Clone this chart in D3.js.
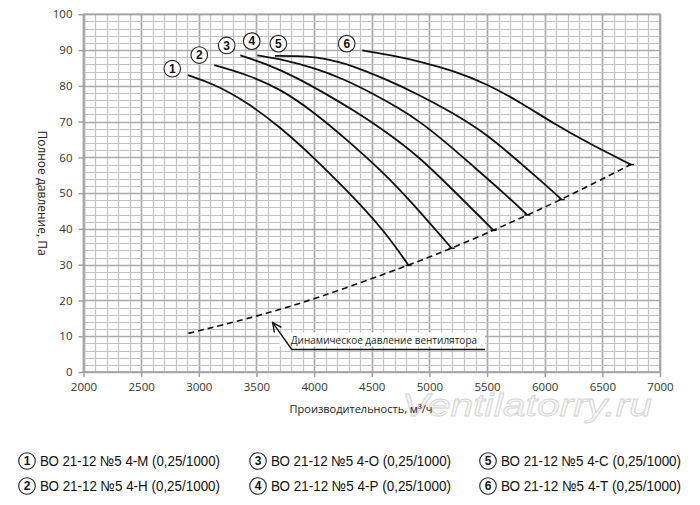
<!DOCTYPE html>
<html><head><meta charset="utf-8">
<script src="https://cdn.jsdelivr.net/npm/d3@7"></script>
<style>
body{margin:0;background:#fff;}
svg{display:block;}
</style>
</head><body>
<svg id="chart" width="700" height="505"></svg>
<script>
// ---- data ----
const xTicks = [2000,2500,3000,3500,4000,4500,5000,5500,6000,6500,7000];
const yTicks = [0,10,20,30,40,50,60,70,80,90,100];
const curveIds = ["1","2","3","4","5","6"];
const curve1 = [[2906,83],[3126,80.6],[3415,75.5],[3704,68.5],[3993,60.1],[4283,50.8],[4600,39.9],[4820,29.8]];
const curve2 = [[3134,85.8],[3415,83.2],[3704,79.2],[3993,72.8],[4283,65],[4600,55.8],[4831,48],[5193,34.6]];
const curve3 = [[3360,88.5],[3600,86],[3849,82.3],[4100,77.8],[4350,73],[4615,67.4],[4918,60],[5207,50.8],[5467,42.5],[5556,39.6]];
const curve4 = [[3508,88.5],[3750,87.2],[4000,85],[4250,82],[4500,78],[4750,73.5],[4918,70],[5150,64],[5352,58.3],[5641,50.2],[5849,43.9]];
const curve5 = [[3661,88.4],[3850,88.4],[4023,88],[4200,86.8],[4311,85.8],[4600,82.2],[4918,77.4],[5200,72.5],[5497,66.5],[5786,58.5],[6000,52.5],[6147,48.2]];
const curve6 = [[4418,89.9],[4700,88.4],[4918,86.8],[5200,84.3],[5497,80.6],[5800,75.2],[6075,69.5],[6400,63.6],[6748,58]];
const dynamicPressure = [[2909,10.8],[3500,15.5],[4000,20.3],[4820,29.8],[5193,34.6],[5556,39.6],[5849,43.9],[6147,48.2],[6748,58]];
const labelPos = [[2770,84.8],[3004,88.6],[3242,91.3],[3459,92.5],[3690,91.8],[4283,91.8]];
const legendNames = [
  "ВО 21-12 №5 4-М (0,25/1000)",
  "ВО 21-12 №5 4-Н (0,25/1000)",
  "ВО 21-12 №5 4-О (0,25/1000)",
  "ВО 21-12 №5 4-Р (0,25/1000)",
  "ВО 21-12 №5 4-С (0,25/1000)",
  "ВО 21-12 №5 4-Т (0,25/1000)"
];
const annotationText = "Динамическое давление вентилятора";
const annotationTip = [3641,13.8], annotationElbow = [3806,6.3], annotationEnd = [5482,6.3];
const xTitle = "Производительность, м³/ч";
const yTitle = "Полное давление, Па";
const watermark = "Ventilatorry.ru";

// ---- layout ----
const svg = d3.select("#chart");
const L = 83.5, R = 660, T = 14.3, B = 372;
const x = d3.scaleLinear().domain([2000,7000]).range([L,R]);
const y = d3.scaleLinear().domain([0,100]).range([B,T]);
const font = "'Open Sans', 'DejaVu Sans', sans-serif";
const narrow = "'Liberation Sans', Arial, sans-serif";

// watermark (behind everything)
svg.append("text").attr("x",402).attr("y",416)
  .attr("textLength",250).attr("lengthAdjust","spacingAndGlyphs")
  .style("font-family","'Liberation Sans', sans-serif").style("font-style","italic").style("font-size","32px")
  .attr("fill","#f6f6f6").attr("stroke","#d4d4d4").attr("stroke-width",0.8).text(watermark);

// grid
const g = svg.append("g");
g.selectAll(".vg").data(d3.range(2000,7001,100)).enter().append("line")
  .attr("x1",d=>Math.round(x(d))+0.5).attr("x2",d=>Math.round(x(d))+0.5)
  .attr("y1",T).attr("y2",B).attr("stroke",d=>d%500===0?"#aaaaaa":"#c2c2c2").attr("stroke-width",d=>d%500===0?1.7:1.2);
g.selectAll(".hg").data(d3.range(0,101,2)).enter().append("line")
  .attr("y1",d=>Math.round(y(d))+0.5).attr("y2",d=>Math.round(y(d))+0.5)
  .attr("x1",L).attr("x2",R).attr("stroke",d=>d%10===0?"#aaaaaa":"#c2c2c2").attr("stroke-width",d=>d%10===0?1.7:1.2);
svg.append("rect").attr("x",L).attr("y",T).attr("width",R-L).attr("height",B-T)
  .attr("fill","none").attr("stroke","#a6a6a6").attr("stroke-width",1.8);

// axes
const xAxis = svg.append("g").attr("transform",`translate(0,${B})`)
  .call(d3.axisBottom(x).tickValues(xTicks).tickSize(5).tickPadding(6).tickFormat(d3.format("d")));
const yAxis = svg.append("g").attr("transform",`translate(${L},0)`)
  .call(d3.axisLeft(y).tickValues(yTicks).tickSize(5).tickPadding(6).tickFormat(d3.format("d")));
[xAxis,yAxis].forEach(a=>{
  a.select(".domain").remove();
  a.selectAll(".tick line").attr("stroke","#a0a0a0").attr("stroke-width",1.5);
  a.selectAll(".tick text").attr("fill","#333").style("font-family",font).style("font-size","11.5px");
});

// titles
svg.append("text").attr("x",361).attr("y",413).attr("text-anchor","middle")
  .style("font-family",font).style("font-size","11px").attr("fill","#222").text(xTitle);
svg.append("text").attr("transform","translate(38,193) rotate(90)").attr("text-anchor","middle")
  .style("font-family",font).style("font-size","12px").attr("fill","#222").text(yTitle);

// dynamic pressure dashed
const line = d3.line().x(d=>x(d[0])).y(d=>y(d[1])).curve(d3.curveBasis);
svg.append("path").datum(dynamicPressure).attr("d",line).attr("fill","none")
  .attr("stroke","#111").attr("stroke-width",1.6).attr("stroke-dasharray","6,4");

// curves
const curves = [curve1,curve2,curve3,curve4,curve5,curve6];
svg.selectAll(".curve").data(curves).enter().append("path").attr("d",line)
  .attr("fill","none").attr("stroke","#111").attr("stroke-width",1.8);
// end ticks
svg.selectAll(".endtick").data(curves).enter().append("line")
  .attr("x1",d=>x(d[d.length-1][0])-3).attr("x2",d=>x(d[d.length-1][0])+3)
  .attr("y1",d=>y(d[d.length-1][1])).attr("y2",d=>y(d[d.length-1][1]))
  .attr("stroke","#111").attr("stroke-width",1.4);

// curve labels
const lab = svg.selectAll(".lab").data(labelPos).enter().append("g")
  .attr("transform",d=>`translate(${x(d[0])},${y(d[1])})`);
lab.append("circle").attr("r",8.3).attr("fill","#fff").attr("stroke","#222").attr("stroke-width",1.1);
lab.append("text").attr("text-anchor","middle").attr("dy","0.36em")
  .style("font-family",narrow).style("font-weight","bold").style("font-size","12px")
  .attr("fill","#111").text((d,i)=>curveIds[i]);

// annotation
const annLine = [annotationTip, annotationElbow, annotationEnd];
svg.append("rect").attr("x",x(annotationElbow[0])-12).attr("y",y(annotationElbow[1])-17)
  .attr("width",x(annotationEnd[0])-x(annotationElbow[0])+12).attr("height",14).attr("fill","#fff");
svg.append("path").datum(annLine).attr("d",d3.line().x(d=>x(d[0])).y(d=>y(d[1])))
  .attr("fill","none").attr("stroke","#111").attr("stroke-width",1.4);
{
  const tx=x(annotationTip[0]), ty=y(annotationTip[1]);
  const ex=x(annotationElbow[0]), ey=y(annotationElbow[1]);
  const ang=Math.atan2(ey-ty, ex-tx);
  const len=10, spread=0.45;
  const p1=[tx+len*Math.cos(ang+spread), ty+len*Math.sin(ang+spread)];
  const p2=[tx+len*Math.cos(ang-spread), ty+len*Math.sin(ang-spread)];
  svg.append("path").attr("d",`M${p1[0]},${p1[1]}L${tx},${ty}L${p2[0]},${p2[1]}`)
    .attr("fill","none").attr("stroke","#111").attr("stroke-width",1.4);
}
svg.append("text").attr("x",x(annotationElbow[0])-1).attr("y",y(annotationElbow[1])-5)
  .style("font-family",font).style("font-size","10px").attr("fill","#222").text(annotationText);

// legend
const legX = [27,258,488], legY = [461,486];
const leg = svg.selectAll(".leg").data(legendNames).enter().append("g")
  .attr("transform",(d,i)=>`translate(${legX[Math.floor(i/2)]},${legY[i%2]})`);
leg.append("circle").attr("r",8.3).attr("fill","#fff").attr("stroke","#222").attr("stroke-width",1.1);
leg.append("text").attr("text-anchor","middle").attr("dy","0.36em")
  .style("font-family",narrow).style("font-weight","bold").style("font-size","12px")
  .attr("fill","#111").text((d,i)=>curveIds[i]);
leg.append("text").attr("x",13).attr("dy","0.36em")
  .attr("textLength",180).attr("lengthAdjust","spacingAndGlyphs")
  .style("font-family",narrow).style("font-size","14.5px")
  .attr("fill","#111").text(d=>d);
</script>
</body></html>
